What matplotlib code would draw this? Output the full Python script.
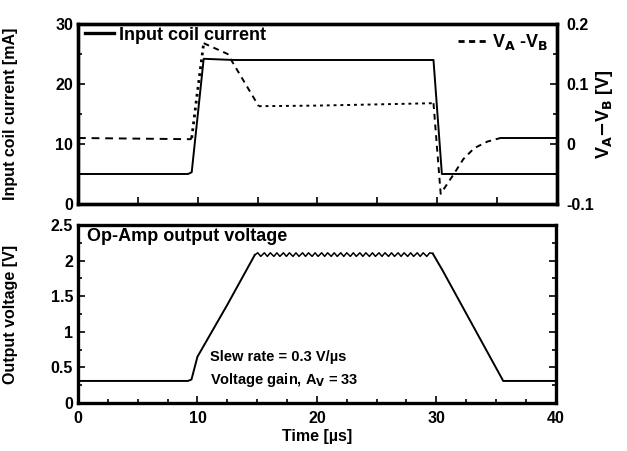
import numpy as np
import matplotlib.pyplot as plt
from matplotlib.ticker import MultipleLocator

plt.rcParams['font.family'] = ['Liberation Sans', 'DejaVu Sans']
plt.rcParams['font.weight'] = 'bold'
plt.rcParams['axes.labelweight'] = 'bold'

# ---------------- data ----------------
# input coil current [mA]
t_cur = [0, 9.2, 9.5, 10.5, 13.0, 29.7, 30.4, 40]
i_cur = [5.0, 5.0, 5.3, 24.2, 24.0, 24.0, 5.0, 5.0]

# VA - VB [V], split in pieces because the original uses several dash styles
t_vab1 = [0, 9.4, 9.5]
v_vab1 = [0.010, 0.008, 0.010]
t_vab2 = [9.5, 10.0, 10.5]            # steep rise (dotted)
v_vab2 = [0.010, 0.090, 0.168]
t_vab3 = [10.5, 12.5, 15.1]           # falling dashed part
v_vab3 = [0.168, 0.150, 0.063]
t_vab4 = [15.1, 20.0, 25.0, 29.7]     # flat dotted part
v_vab4 = [0.063, 0.064, 0.066, 0.068]
t_vab5 = [29.7, 30.3, 31.4, 32.2, 33.1, 34.2, 35.3]   # drop and recovery
v_vab5 = [0.068, -0.083, -0.050, -0.025, -0.007, 0.004, 0.010]
t_vab6 = [35.3, 40]
v_vab6 = [0.010, 0.010]

# op-amp output voltage [V]
t_out_a = [0, 9.2, 9.5, 10.0, 12.5, 14.8]
v_out_a = [0.31, 0.31, 0.33, 0.65, 1.38, 2.08]
# ripple on the plateau
t_rip = [14.8, 15.05, 15.3, 15.6, 15.85, 16.1, 16.4, 16.65, 16.9, 17.2,
         17.45, 17.7, 18.0, 18.25, 18.5, 18.8, 19.05, 19.3, 19.6, 19.85,
         20.1, 20.4, 20.65, 20.9, 21.2, 21.45, 21.7, 22.0, 22.25, 22.5,
         22.8, 23.05, 23.3, 23.6, 23.85, 24.1, 24.4, 24.65, 24.9, 25.2,
         25.45, 25.7, 26.0, 26.25, 26.5, 26.8, 27.05, 27.3, 27.6, 27.85,
         28.1, 28.4, 28.65, 28.9, 29.2, 29.45, 29.7]
v_rip = [2.08, 2.11, 2.06, 2.11, 2.06, 2.11, 2.06, 2.11, 2.06, 2.11,
         2.06, 2.11, 2.06, 2.11, 2.06, 2.11, 2.06, 2.11, 2.06, 2.11,
         2.06, 2.11, 2.06, 2.11, 2.06, 2.11, 2.06, 2.11, 2.06, 2.11,
         2.06, 2.11, 2.06, 2.11, 2.06, 2.11, 2.06, 2.11, 2.06, 2.11,
         2.06, 2.11, 2.06, 2.11, 2.06, 2.11, 2.06, 2.11, 2.06, 2.11,
         2.06, 2.11, 2.06, 2.11, 2.06, 2.11, 2.10]
t_out_b = [29.7, 30.5, 35.6, 40]
v_out_b = [2.10, 1.87, 0.31, 0.31]

# ---------------- figure ----------------
fig = plt.figure(figsize=(6.27, 4.51), dpi=100)
ax1 = fig.add_axes([0.1244, 0.5477, 0.7636, 0.3991])
ax2 = fig.add_axes([0.1244, 0.1064, 0.7620, 0.3946])

spine_w = 2.4
line_w = 1.4
fs = 11.5
fs_in = 13

# --- top panel ---
ax1.plot(t_cur, i_cur, 'k-', lw=line_w, label='Input coil current')
ax1.set_xlim(0, 40)
ax1.set_ylim(0, 30)
ax1.yaxis.set_major_locator(MultipleLocator(10))
ax1.yaxis.set_minor_locator(MultipleLocator(5))
ax1.xaxis.set_major_locator(MultipleLocator(5))
ax1.set_xticklabels([])
ax1.set_ylabel('Input coil current [mA]', fontsize=fs)
leg1 = ax1.legend(loc='upper left', bbox_to_anchor=(0.01, 1.0), frameon=False,
                  fontsize=fs_in, handlelength=1.6, handletextpad=0.25,
                  borderaxespad=0.1, borderpad=0.05)
leg1.get_lines()[0].set_linewidth(2.4)

ax1r = ax1.twinx()
ax1r.plot(t_vab1, v_vab1, 'k', ls=(0, (4, 3)), lw=line_w)
ax1r.plot(t_vab2, v_vab2, 'k', ls=(0, (1, 1.5)), lw=2.0)
ax1r.plot(t_vab3, v_vab3, 'k', ls=(0, (3, 2.5)), lw=line_w)
ax1r.plot(t_vab4, v_vab4, 'k', ls=(0, (1.5, 2)), lw=line_w)
ax1r.plot(t_vab5, v_vab5, 'k', ls=(0, (3, 2.5)), lw=line_w)
ax1r.plot(t_vab6, v_vab6, 'k-', lw=line_w)
ax1r.plot([], [], 'k', ls=(0, (2.2, 1.6)), lw=2.0, label='V$_\\mathbf{A}$ -V$_\\mathbf{B}$')
ax1r.set_ylim(-0.1, 0.2)
ax1r.yaxis.set_minor_locator(MultipleLocator(0.05))
ax1r.set_yticks([-0.1, 0, 0.1, 0.2])
ax1r.set_yticklabels(['-0.1', '0', '0.1', '0.2'])
ax1r.set_ylabel('V$_\\mathbf{A}$$-$V$_\\mathbf{B}$ [V]', fontsize=fs_in, labelpad=0)
ax1r.legend(loc='upper right', frameon=False, fontsize=fs_in,
            handlelength=1.6, handletextpad=0.3, borderaxespad=0.1,
            borderpad=0.35)

# --- bottom panel ---
ax2.plot(t_out_a, v_out_a, 'k-', lw=line_w)
ax2.plot(t_rip, v_rip, 'k-', lw=1.1)
ax2.plot(t_out_b, v_out_b, 'k-', lw=line_w)
ax2.set_xlim(0, 40)
ax2.set_ylim(0, 2.5)
ax2.xaxis.set_major_locator(MultipleLocator(10))
ax2.xaxis.set_minor_locator(MultipleLocator(2.5))
ax2.yaxis.set_minor_locator(MultipleLocator(0.25))
ax2.set_yticks([0, 0.5, 1, 1.5, 2, 2.5])
ax2.set_yticklabels(['0', '0.5', '1', '1.5', '2', '2.5'])
ax2.set_xlabel('Time [µs]', fontsize=fs, labelpad=2)
ax2.set_ylabel('Output voltage [V]', fontsize=fs)
ax2.text(0.018, 0.985, 'Op-Amp output voltage', transform=ax2.transAxes,
         fontsize=fs_in, va='top', ha='left')
ax2.text(0.276, 0.26, 'Slew rate = 0.3 V/µs', transform=ax2.transAxes,
         fontsize=10.5, va='center', ha='left')
ax2.text(0.276, 0.13, 'Voltage gain, A$_\\mathbf{V}$ = 33', transform=ax2.transAxes,
         fontsize=10.5, va='center', ha='left')

for ax in (ax1, ax1r, ax2):
    for s in ax.spines.values():
        s.set_linewidth(spine_w)
    ax.tick_params(which='both', direction='in', labelsize=fs, width=1.2)
    ax.tick_params(which='major', length=5)
    ax.tick_params(which='minor', length=3)
ax1.tick_params(axis='y', which='both', right=False)
ax1.tick_params(axis='x', which='both', top=False)
ax1r.tick_params(axis='y', pad=7)
ax2.tick_params(axis='x', pad=6)
ax2.tick_params(which='both', top=False, right=True)
ax1.yaxis.set_label_coords(-0.125, 0.5)
ax2.yaxis.set_label_coords(-0.125, 0.5)

plt.savefig('out.png', dpi=100)
